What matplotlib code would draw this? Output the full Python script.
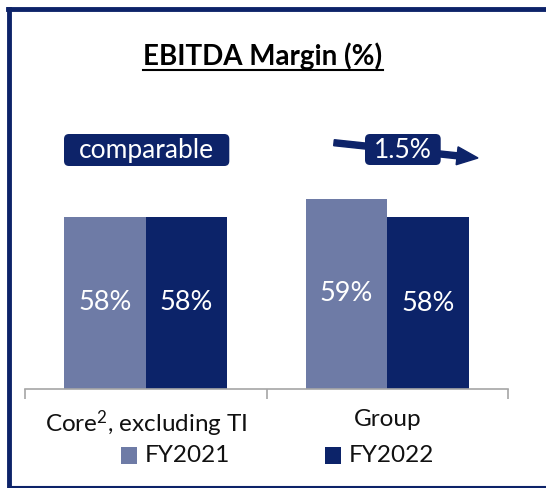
import matplotlib
matplotlib.use("Agg")
import matplotlib.pyplot as plt
import matplotlib.transforms as mtransforms
from matplotlib.patches import FancyBboxPatch, FancyArrow, Rectangle
from matplotlib.lines import Line2D

# ---- data ----
categories = ["Core$^{2}$, excluding TI", "Group"]
series_names = ["FY2021", "FY2022"]
fy2021 = [58.0, 59.0]
fy2022 = [58.0, 57.97]
value_labels_2021 = ["58%", "59%"]
value_labels_2022 = ["58%", "58%"]
title = "EBITDA Margin (%)"
callouts = ["comparable", "1.5%"]

# ---- style ----
FONT = "Lato"
plt.rcParams["font.family"] = [FONT, "DejaVu Sans"]
plt.rcParams["mathtext.fontset"] = "custom"
plt.rcParams["mathtext.rm"] = FONT
plt.rcParams["mathtext.it"] = FONT
plt.rcParams["mathtext.default"] = "regular"
C21 = "#6e7ba6"
C22 = "#0c2369"
NAVY = "#0d2369"
GRAY = "#a6a6a6"

W, H = 546, 488
fig = plt.figure(figsize=(W / 100, H / 100), dpi=100)
fig.patch.set_facecolor("white")
# pixel transform: top-left origin
T = mtransforms.Affine2D().scale(1 / 100, -1 / 100).translate(0, H / 100) + fig.dpi_scale_trans

# axes
ax_left, ax_right, ax_bottom, ax_top = 25, 508, 389.3, 100
ax = fig.add_axes([ax_left / W, 1 - ax_bottom / H, (ax_right - ax_left) / W, (ax_bottom - ax_top) / H])
ax.set_xlim(-0.5, 1.5)
ymin = 48.4
ax.set_ylim(ymin, ymin + (ax_bottom - ax_top) / 18.0)

bw = 0.338
x = list(range(len(categories)))
ax.bar([i - bw / 2 for i in x], fy2021, width=bw, color=C21, label=series_names[0], zorder=2)
ax.bar([i + bw / 2 for i in x], fy2022, width=bw, color=C22, label=series_names[1], zorder=2)

for i in x:
    ax.text(i - bw / 2, (ymin + fy2021[i]) / 2, value_labels_2021[i], ha="center", va="center",
            color="white", fontsize=19.5)
    ax.text(i + bw / 2, (ymin + fy2022[i]) / 2, value_labels_2022[i], ha="center", va="center",
            color="white", fontsize=19.5)

for s in ["top", "left", "right"]:
    ax.spines[s].set_visible(False)
ax.spines["bottom"].set_color(GRAY)
ax.spines["bottom"].set_linewidth(1.2)
ax.set_yticks([])
ax.set_xticks(x)
ax.set_xticklabels(categories, fontsize=17.5, color="#111111")
ax.tick_params(axis="x", which="major", length=0, pad=14)
ax.set_xticks([-0.5, 0.5, 1.5], minor=True)
ax.tick_params(axis="x", which="minor", length=7.5, width=1.2, color=GRAY, direction="out")

# title with underline
fig.text(263 / W, 1 - 56 / H, title, ha="center", va="center", fontsize=20, fontweight="bold",
         color="black")
fig.add_artist(Line2D([143, 383], [69.5, 69.5], transform=T, color="black", lw=1.5))

# arrow behind 1.5% box
fig.add_artist(FancyArrow(334, 142.7, 144, 15.3, width=6, head_width=18, head_length=21,
                          length_includes_head=True, color=NAVY, transform=T, zorder=3))

# callout boxes
boxes = [(64, 134, 165.3, 32), (365, 134, 75.7, 31)]
for (bx, by, bwid, bh), txt in zip(boxes, callouts):
    fig.add_artist(FancyBboxPatch((bx, by), bwid, bh, boxstyle="round,pad=0,rounding_size=5",
                                  facecolor=NAVY, edgecolor="none", transform=T, zorder=4))
    fig.text((bx + bwid / 2) / W, 1 - (by + bh / 2 + 0.5) / H, txt, ha="center", va="center",
             color="white", fontsize=19, zorder=5)

# legend (manual, figure pixel coords)
leg = [(120.7, 446.7, C21, series_names[0]), (325, 446.7, C22, series_names[1])]
for lx, ly, col, name in leg:
    fig.add_artist(Rectangle((lx, ly), 16, 17.5, facecolor=col, edgecolor="none", transform=T))
    fig.text((lx + 24) / W, 1 - (ly + 9) / H, name, ha="left", va="center", fontsize=17.5,
             color="#111111")

# frame
fig.add_artist(Line2D([9.2, 9.2], [9.2, 488], transform=T, color=NAVY, lw=3.5))
fig.add_artist(Line2D([7.5, 546], [9.2, 9.2], transform=T, color=NAVY, lw=3.5))
fig.add_artist(Line2D([9.2, 546], [487, 487], transform=T, color=NAVY, lw=1.5))

fig.savefig("out.png", dpi=100)
